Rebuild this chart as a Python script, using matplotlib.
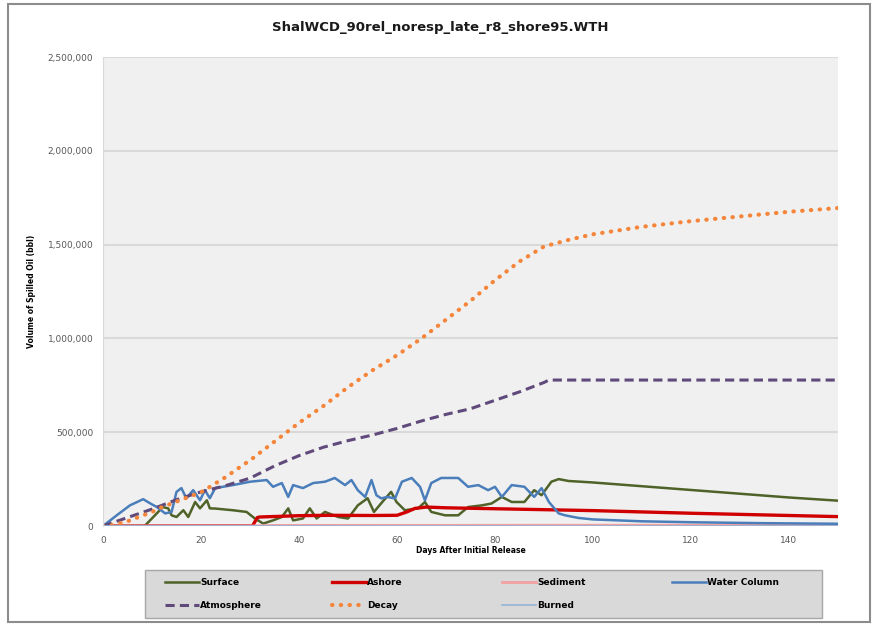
import matplotlib
matplotlib.use('Agg')
import matplotlib.pyplot as plt
import matplotlib.ticker as mticker
from matplotlib.patches import Rectangle

# values (days, barrels)
surface_days = [0, 8.5, 10.6, 12.2, 13.3, 14, 15, 16.4, 17.4, 18.8, 19.8, 21.2, 21.8, 22.9, 26.5, 29.3,
                31, 32.7, 34.7, 36.5, 37.8, 38.8, 40.8, 42.2, 43.6, 45.3, 48, 50, 52, 54, 55.3, 57,
                58.8, 59.9, 61.6, 64.3, 65.7, 67, 69.8, 72.5, 74.5, 77.3, 79.3, 81.4, 83.4, 86, 88,
                89.5, 91.5, 93, 95, 100, 110, 120, 130, 140, 150]
surface_vals = [0, 0, 57e3, 101e3, 94e3, 57e3, 48e3, 84e3, 48e3, 128e3, 94e3, 137e3, 94e3, 93e3, 84e3, 75e3,
                40e3, 13e3, 30e3, 48e3, 94e3, 30e3, 40e3, 94e3, 40e3, 75e3, 48e3, 40e3, 110e3, 148e3, 75e3, 128e3,
                182e3, 128e3, 84e3, 94e3, 128e3, 75e3, 57e3, 57e3, 101e3, 110e3, 120e3, 155e3, 128e3, 128e3, 191e3,
                164e3, 236e3, 250e3, 240e3, 232e3, 212e3, 192e3, 172e3, 152e3, 135e3]

ashore_days = [0, 30.5, 31.5, 32, 40, 46, 55, 60, 62, 63.7, 66, 70, 80, 90, 100, 120, 150]
ashore_vals = [0, 0, 45e3, 48e3, 55e3, 57e3, 56e3, 57e3, 75e3, 94e3, 101e3, 97e3, 92e3, 87e3, 82e3, 68e3, 50e3]

sediment_days = [0, 30, 35, 150]
sediment_vals = [0, 0, 3e3, 5e3]

water_days = [0, 2.8, 5.5, 8.2, 9.6, 11, 12.7, 14, 15, 16, 17, 18.4, 19.8, 20.8, 21.8, 22.9, 26.5, 30,
              33.4, 34.7, 36.5, 37.8, 38.8, 40.8, 42.9, 45.3, 47.3, 49.4, 50.7, 52, 53.5, 54.8, 55.8,
              56.8, 58, 59.6, 61, 63, 64.7, 65.7, 67, 69, 72.5, 74.5, 76.6, 78.6, 80, 81.4, 83.4, 86,
              88, 89.5, 91, 93, 94.3, 97, 100, 110, 120, 135, 150]
water_vals = [0, 57e3, 110e3, 143e3, 121e3, 101e3, 67e3, 75e3, 182e3, 202e3, 148e3, 191e3, 137e3, 191e3,
              148e3, 202e3, 218e3, 236e3, 245e3, 209e3, 229e3, 155e3, 218e3, 202e3, 229e3, 236e3, 256e3,
              218e3, 245e3, 191e3, 155e3, 245e3, 164e3, 147e3, 155e3, 147e3, 236e3, 256e3, 209e3, 137e3,
              229e3, 256e3, 256e3, 209e3, 218e3, 191e3, 209e3, 155e3, 218e3, 209e3, 155e3, 202e3, 128e3,
              67e3, 57e3, 43e3, 35e3, 25e3, 20e3, 15e3, 12e3]

atmos_days = [0, 5, 10, 15, 20, 25, 30, 35, 40, 45, 50, 55, 60, 65, 70, 75, 80, 85, 90, 91, 150]
atmos_vals = [0, 45e3, 90e3, 140e3, 182e3, 215e3, 255e3, 320e3, 375e3, 420e3, 455e3, 485e3, 520e3,
              560e3, 595e3, 625e3, 670e3, 715e3, 765e3, 778e3, 778e3]

decay_days = [0, 2, 5, 8, 10, 12, 15, 20, 25, 28, 30, 35, 40, 45, 50, 55, 60, 65, 70, 75, 80, 85, 90,
              95, 100, 110, 120, 130, 140, 150]
decay_vals = [0, 5e3, 25e3, 55e3, 75e3, 100e3, 130e3, 180e3, 260e3, 315e3, 350e3, 450e3, 550e3, 640e3,
              740e3, 830e3, 910e3, 1.0e6, 1.1e6, 1.2e6, 1.31e6, 1.41e6, 1.49e6, 1.525e6, 1.555e6, 1.595e6,
              1.625e6, 1.65e6, 1.675e6, 1.695e6]

burned_days = [0, 150]
burned_vals = [0, 0]

title = 'ShalWCD_90rel_noresp_late_r8_shore95.WTH'

W, H = 877, 626
fig = plt.figure(figsize=(W / 100, H / 100), dpi=100)
fig.patch.set_facecolor('white')
ax = fig.add_axes([103 / W, 1 - 526 / H, 735 / W, 469 / H])
ax.set_facecolor('#f0f0f0')

l_sf, = ax.plot(surface_days, surface_vals, color='#4f6228', lw=1.8, label='Surface')
l_as, = ax.plot(ashore_days, ashore_vals, color='#d00000', lw=2.4, label='Ashore')
l_sd, = ax.plot(sediment_days, sediment_vals, color='#f2a0a0', lw=2.0, label='Sediment')
l_wc, = ax.plot(water_days, water_vals, color='#4a7ebb', lw=1.8, label='Water Column')
l_at, = ax.plot(atmos_days, atmos_vals, color='#604a7b', lw=2.2, ls=(0, (3, 1.7)), label='Atmosphere')
l_dc, = ax.plot(decay_days, decay_vals, color='#f5853a', lw=3.0, ls=(0, (0.1, 2.0)),
                dash_capstyle='round', label='Decay')
l_bn, = ax.plot(burned_days, burned_vals, color='#95b3d7', lw=1.2, label='Burned')

ax.set_xlim(0, 150)
ax.set_ylim(0, 2500000)
ax.set_xticks([0, 20, 40, 60, 80, 100, 120, 140])
ax.set_yticks([0, 500000, 1000000, 1500000, 2000000, 2500000])
ax.yaxis.set_major_formatter(mticker.FuncFormatter(lambda v, p: f'{int(v):,}'))
ax.tick_params(length=0, labelsize=6.5, labelcolor='#595959', pad=7)
ax.grid(axis='y', color='#d9d9d9', lw=1.5)
ax.set_axisbelow(True)
for s in ['top', 'right', 'bottom']:
    ax.spines[s].set_visible(False)
ax.spines['left'].set_color('#d9d9d9')

ax.set_xlabel('Days After Initial Release', fontsize=5.5, fontweight='bold', labelpad=1)
ax.set_ylabel('Volume of Spilled Oil (bbl)', fontsize=5.5, fontweight='bold', labelpad=8)
fig.text(0.502, 1 - 28 / H, title, ha='center', va='center', fontsize=9.5, fontweight='bold',
         color='#1a1a1a')

# legend box, then one legend per column so the columns sit at even spacing like Excel's
fig.patches.append(Rectangle((145 / W, 1 - 618 / H), 677 / W, 48 / H, transform=fig.transFigure,
                             facecolor='#d9d9d9', edgecolor='#a6a6a6', lw=1.0, zorder=1))
columns = [[l_sf, l_at], [l_as, l_dc], [l_sd, l_bn], [l_wc]]
col_x = [165, 332, 502, 672]
for hs, x in zip(columns, col_x):
    lg = fig.legend(hs, [h.get_label() for h in hs], loc='upper left',
                    bbox_to_anchor=(x / W, 1 - 578 / H), frameon=False, fontsize=6.5,
                    handlelength=3.8, handletextpad=0.1, borderpad=0, borderaxespad=0,
                    labelspacing=1.55)
    for t in lg.get_texts():
        t.set_fontweight('bold')

# outer chart frame
fig.patches.append(Rectangle((8 / W, 4 / H), 862 / W, 618 / H, transform=fig.transFigure,
                             fill=False, edgecolor='#8c8c8c', lw=1.5))

fig.savefig('out.png', dpi=100)
